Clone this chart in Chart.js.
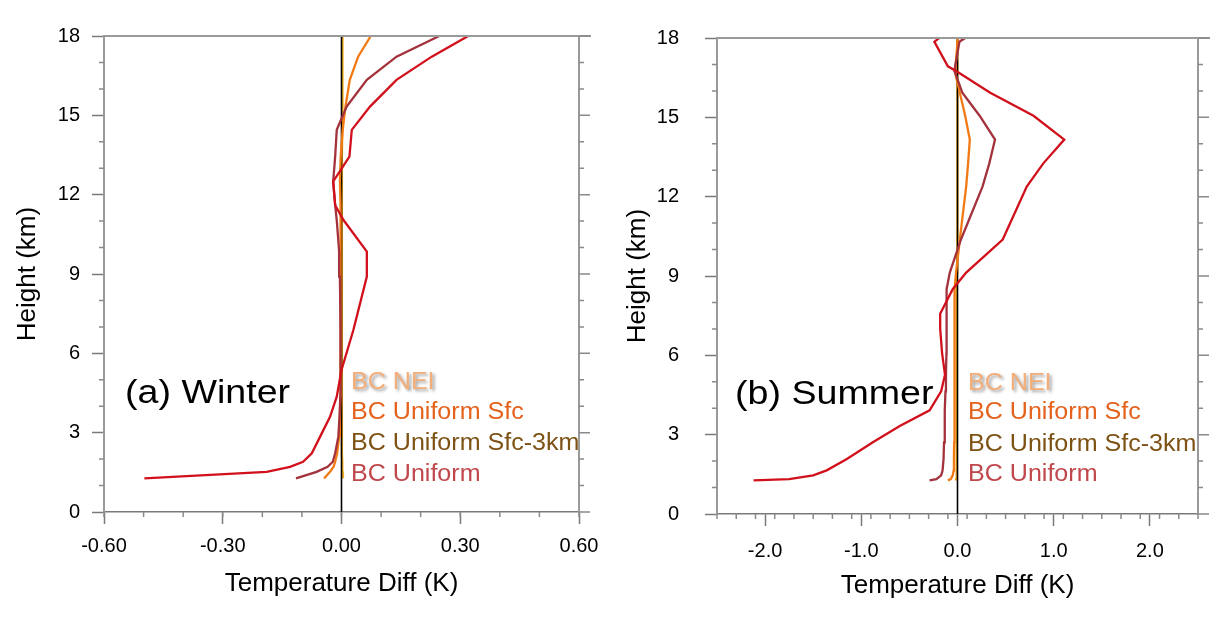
<!doctype html>
<html lang="en">
<head>
  <meta charset="utf-8">
  <title>BC Temperature Diff profiles</title>
  <script src="https://cdn.jsdelivr.net/npm/chart.js"></script>
  <style>
    body { margin: 0; background: #fff; font-family: "Liberation Sans", Arial, sans-serif; }
    .panel { position: absolute; top: 0; width: 610px; height: 623px; }
    #leftPanel { left: 0; }
    #rightPanel { left: 610px; }
    .tag { position: absolute; font-size: 33px; line-height: 1; color: #000; white-space: nowrap;
           transform: scaleX(1.14); transform-origin: left center; }
    .key { position: absolute; font-size: 23px; line-height: 1; white-space: nowrap;
           transform: scaleX(1.09); transform-origin: left center; }
    .nei { color: #f3ad78; text-shadow: 2px 2px 3px #9a9a9a; }
    .sfc { color: #e4621c; }
    .sfc3 { color: #7d5214; }
    .uni { color: #c0474b; }
  </style>
</head>
<body>

  <!-- Panel (a) winter -->
  <div class="panel" id="leftPanel"><canvas id="winterChart" width="610" height="623"></canvas></div>
  <!-- Panel (b) summer -->
  <div class="panel" id="rightPanel"><canvas id="summerChart" width="610" height="623"></canvas></div>

  <div class="tag" style="left:125px; top:375px;">(a) Winter</div>
  <div class="tag" style="left:735px; top:376px;">(b) Summer</div>

  <div class="key nei" style="left:351px; top:370px;">BC NEI</div>
  <div class="key sfc" style="left:351px; top:400px;">BC Uniform Sfc</div>
  <div class="key sfc3" style="left:351px; top:431px;">BC Uniform Sfc-3km</div>
  <div class="key uni" style="left:351px; top:462px;">BC Uniform</div>

  <div class="key nei" style="left:968px; top:371px;">BC NEI</div>
  <div class="key sfc" style="left:968px; top:400px;">BC Uniform Sfc</div>
  <div class="key sfc3" style="left:968px; top:432px;">BC Uniform Sfc-3km</div>
  <div class="key uni" style="left:968px; top:462px;">BC Uniform</div>

  <script>
    // === DATA (height in km, temperature difference in K) ===

    const seriesNames = ["BC NEI", "BC Uniform Sfc", "BC Uniform Sfc-3km", "BC Uniform"];

    const winterHeights = [1.27, 1.52, 1.71, 1.90, 2.22, 2.85, 3.60, 4.36, 5.37, 6.88, 8.90, 9.85, 11.04, 11.60, 12.50, 13.44, 14.45, 15.33, 16.34, 17.22, 18.00];
    const winterNEI     = [0.004, 0.003, 0.002, 0.002, 0.001, 0.001, 0.001, 0.001, 0.001, 0.001, 0.001, 0.001, 0.001, 0.001, 0.001, 0.001, 0.002, 0.002, 0.002, 0.003, 0.003];
    const winterSfc     = [-0.044, -0.029, -0.020, -0.016, -0.011, -0.006, -0.004, -0.003, -0.002, -0.002, -0.002, -0.002, -0.003, -0.003, -0.004, -0.002, 0.003, 0.010, 0.021, 0.042, 0.074];
    const winterSfc3km  = [-0.115, -0.063, -0.035, -0.022, -0.016, -0.008, -0.005, -0.003, -0.002, -0.003, -0.004, -0.006, -0.012, -0.016, -0.021, -0.016, -0.012, 0.013, 0.064, 0.139, 0.247];
    const winterUniform = [-0.498, -0.189, -0.130, -0.097, -0.075, -0.054, -0.029, -0.012, 0.000, 0.030, 0.064, 0.064, 0.005, -0.016, -0.021, 0.020, 0.026, 0.072, 0.139, 0.228, 0.320];

    const summerHeights = [1.27, 1.32, 1.46, 1.65, 2.08, 2.71, 3.33, 3.92, 4.64, 5.27, 6.07, 7.01, 7.57, 8.50, 9.13, 10.38, 12.38, 13.25, 14.16, 15.06, 15.93, 16.74, 16.93, 17.86, 18.00];
    const summerNEI     = [-0.018, -0.015, -0.012, -0.010, -0.010, -0.009, -0.009, -0.008, -0.008, -0.008, -0.007, -0.007, -0.007, -0.006, -0.005, -0.004, -0.003, -0.002, -0.002, -0.002, -0.002, -0.002, 0.000, 0.002, 0.004];
    const summerSfc     = [-0.100, -0.070, -0.050, -0.040, -0.037, -0.035, -0.034, -0.033, -0.032, -0.031, -0.030, -0.030, -0.029, -0.028, -0.015, 0.024, 0.090, 0.110, 0.128, 0.080, 0.024, -0.028, -0.020, 0.000, 0.006];
    const summerSfc3km  = [-0.290, -0.220, -0.170, -0.155, -0.145, -0.140, -0.135, -0.130, -0.125, -0.120, -0.115, -0.115, -0.115, -0.110, -0.080, 0.036, 0.260, 0.330, 0.390, 0.230, 0.050, -0.030, -0.025, 0.020, 0.080];
    const summerUniform = [-2.12, -1.75, -1.50, -1.36, -1.15, -0.88, -0.60, -0.29, -0.17, -0.13, -0.16, -0.18, -0.18, -0.05, 0.09, 0.47, 0.72, 0.89, 1.11, 0.79, 0.34, -0.01, -0.10, -0.24, -0.19];

    // zero reference line
    const zeroLineX = [0, 0];
    const zeroLineH = [0, 18];

    // tick labels
    const heightTicks = [0, 3, 6, 9, 12, 15, 18];
    const winterTicks = [-0.6, -0.3, 0, 0.3, 0.6];
    const summerTicks = [-2, -1, 0, 1, 2];

    const lineColors = ["#f2ac1c", "#f27a14", "#a3323c", "#d1101c"];

    // === PLUGIN: frame, right side ticks and minor ticks ===

    const framePlugin = {
      id: "frame",
      afterDraw(chart, args, opts) {
        const { ctx, chartArea: a, scales: { x, y } } = chart;
        ctx.save();
        ctx.strokeStyle = "#9a9a9a";
        ctx.lineWidth = 2;
        ctx.beginPath();
        ctx.moveTo(a.left, a.top); ctx.lineTo(a.right + 12, a.top);
        ctx.moveTo(a.right, a.top); ctx.lineTo(a.right, a.bottom);
        ctx.stroke();

        ctx.strokeStyle = "#8a8a8a";
        ctx.lineWidth = 1.5;
        ctx.beginPath();
        // y minor ticks, left and right
        for (let v = 0; v <= 18; v += 1) {
          const py = y.getPixelForValue(v);
          const major = v % 3 === 0;
          if (!major) { ctx.moveTo(a.left - 5, py); ctx.lineTo(a.left, py); }
          ctx.moveTo(a.right, py); ctx.lineTo(a.right + (major ? 11 : 5), py);
        }
        // x minor ticks, bottom
        const n = Math.round((x.max - x.min) / opts.minor);
        for (let i = 0; i <= n; i++) {
          const v = x.min + i * opts.minor;
          const px = x.getPixelForValue(v);
          ctx.moveTo(px, a.bottom); ctx.lineTo(px, a.bottom + 5);
        }
        ctx.stroke();
        ctx.restore();
      }
    };

    // === BUILD ONE PANEL ===

    function buildPanel(id, heights, values, xSetup) {
      const datasets = [];
      // first dataset is drawn on top
      for (let s = values.length - 1; s >= 0; s--) {
        datasets.push({
          label: seriesNames[s],
          data: heights.map((h, i) => ({ x: values[s][i], y: h })),
          borderColor: lineColors[s],
          borderWidth: 2.3,
          showLine: true,
          pointRadius: 0,
          tension: 0
        });
        if (s === 1) {
          datasets.push({
            label: "zero",
            data: zeroLineH.map((h, i) => ({ x: zeroLineX[i], y: h })),
            borderColor: "#000",
            borderWidth: 1.6,
            showLine: true,
            pointRadius: 0
          });
        }
      }

      return new Chart(document.getElementById(id), {
        type: "scatter",
        data: { datasets },
        options: {
          responsive: false,
          animation: false,
          layout: { padding: { top: xSetup.top, right: xSetup.right, left: 0, bottom: 0 } },
          plugins: {
            legend: { display: false },
            tooltip: { enabled: false },
            frame: { minor: xSetup.minor }
          },
          scales: {
            x: {
              type: "linear",
              min: xSetup.min,
              max: xSetup.max,
              afterBuildTicks: sc => { sc.ticks = xSetup.ticks.map(v => ({ value: v })); },
              afterFit: sc => { sc.height = xSetup.axisHeight; },
              ticks: {
                color: "#000",
                padding: xSetup.labelPad,
                maxRotation: 0,
                font: { family: "Liberation Sans", size: 20 },
                callback: v => Number(v).toFixed(xSetup.digits)
              },
              grid: { drawOnChartArea: false, tickLength: 12, tickWidth: 1.5, tickColor: "#7a7a7a" },
              border: { color: "#7a7a7a", width: 1.5 },
              title: {
                display: true,
                text: "Temperature Diff (K)",
                color: "#000",
                font: { family: "Liberation Sans", size: 26 },
                padding: { top: 0, bottom: xSetup.titlePad }
              }
            },
            y: {
              type: "linear",
              min: 0,
              max: 18,
              afterBuildTicks: sc => { sc.ticks = heightTicks.map(v => ({ value: v })); },
              afterFit: sc => { sc.width = xSetup.axisWidth; },
              ticks: {
                color: "#000",
                padding: xSetup.yLabelPad,
                font: { family: "Liberation Sans", size: 20 }
              },
              grid: { drawOnChartArea: false, tickLength: 12, tickWidth: 1.5, tickColor: "#7a7a7a" },
              border: { color: "#9a9a9a", width: 2 },
              title: {
                display: true,
                text: "Height (km)",
                color: "#000",
                font: { family: "Liberation Sans", size: 26 },
                padding: { top: 12, bottom: 0 }
              }
            }
          }
        },
        plugins: [framePlugin]
      });
    }

    // === INIT ===

    buildPanel("winterChart", winterHeights,
      [winterNEI, winterSfc, winterSfc3km, winterUniform],
      { min: -0.6, max: 0.6, ticks: winterTicks, digits: 2, minor: 0.1,
        top: 36, right: 31, axisHeight: 111, axisWidth: 104,
        labelPad: 10, titlePad: 24, yLabelPad: 12 });

    buildPanel("summerChart", summerHeights,
      [summerNEI, summerSfc, summerSfc3km, summerUniform],
      { min: -2.5, max: 2.5, ticks: summerTicks, digits: 1, minor: 0.2,
        top: 33, right: 22, axisHeight: 109, axisWidth: 107,
        labelPad: 13, titlePad: 22, yLabelPad: 26 });
  </script>

</body>
</html>
